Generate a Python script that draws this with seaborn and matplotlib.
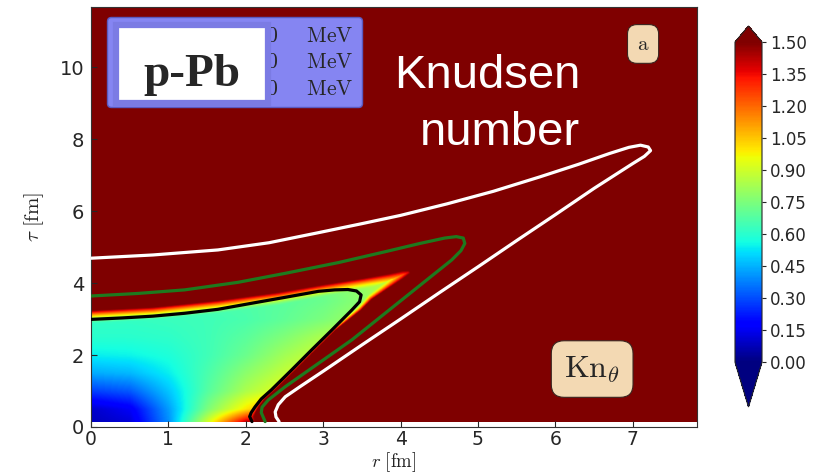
import numpy as np
import pandas as pd
import matplotlib
matplotlib.use("Agg")
import matplotlib.pyplot as plt
from matplotlib.path import Path
from matplotlib.patches import Rectangle
import seaborn as sns

# ---------------------------------------------------------------------------
# Isotherms on the (r, tau) plane, listed along each curve
# ---------------------------------------------------------------------------
iso_labels = [r"$T=150\quad\;\;\mathrm{MeV}$",
              r"$T=130\quad\;\;\mathrm{MeV}$",
              r"$T=100\quad\;\;\mathrm{MeV}$"]
iso_colors = ["black", "#1e7a1e", "white"]

black_r = [0.00, 0.40, 0.80, 1.21, 1.64, 2.08, 2.50, 2.94, 3.15, 3.32, 3.43,
           3.49, 3.47, 3.37, 3.11, 2.85, 2.59, 2.33, 2.20, 2.12, 2.07, 2.05, 2.08]
black_tau = [2.99, 3.03, 3.08, 3.16, 3.27, 3.44, 3.60, 3.77, 3.81, 3.82, 3.78,
             3.67, 3.48, 3.25, 2.69, 2.14, 1.58, 1.03, 0.78, 0.56, 0.40, 0.29, 0.15]

green_r = [0.00, 0.60, 1.21, 1.90, 2.51, 3.20, 3.80, 4.25, 4.57, 4.72, 4.81,
           4.83, 4.78, 4.66, 4.23, 3.80, 3.37, 2.94, 2.51, 2.29, 2.21, 2.20, 2.25]
green_tau = [3.64, 3.71, 3.81, 4.02, 4.27, 4.57, 4.87, 5.10, 5.25, 5.29, 5.25,
             5.10, 4.90, 4.64, 3.90, 3.16, 2.42, 1.77, 1.12, 0.75, 0.55, 0.40, 0.15]

white_r = [0.00, 0.80, 1.64, 2.30, 2.94, 3.50, 4.00, 4.60, 5.20, 5.80, 6.30,
           6.70, 6.95, 7.10, 7.20, 7.23, 7.15, 7.00, 6.50, 6.00, 5.50, 5.00,
           4.50, 4.00, 3.50, 3.00, 2.70, 2.51, 2.42, 2.38, 2.39, 2.43]
white_tau = [4.69, 4.78, 4.92, 5.12, 5.40, 5.65, 5.88, 6.20, 6.55, 6.95, 7.30,
             7.60, 7.77, 7.83, 7.78, 7.68, 7.52, 7.32, 6.63, 5.90, 5.18, 4.45,
             3.73, 3.00, 2.28, 1.55, 1.12, 0.84, 0.62, 0.42, 0.28, 0.15]

# ---------------------------------------------------------------------------
# Knudsen number Kn_theta: values on a coarse (tau, r) grid ...
# ---------------------------------------------------------------------------
kn_r = [0.0, 0.5, 1.0, 1.5, 2.0, 2.5, 3.0, 3.5, 4.0, 4.5]
kn_tau = [0.15, 0.5, 1.0, 1.5, 2.0, 2.5, 3.0, 3.5, 4.0, 4.5]
kn_values = [
    [0.08, 0.12, 0.40, 0.90, 1.42, 1.50, 1.50, 1.50, 1.50, 1.50],
    [0.10, 0.16, 0.42, 0.75, 1.00, 1.20, 1.40, 1.50, 1.50, 1.50],
    [0.28, 0.32, 0.48, 0.68, 0.84, 0.95, 1.10, 1.30, 1.50, 1.50],
    [0.44, 0.46, 0.54, 0.66, 0.78, 0.88, 0.95, 1.10, 1.30, 1.50],
    [0.54, 0.55, 0.58, 0.64, 0.72, 0.82, 0.90, 1.00, 1.20, 1.40],
    [0.60, 0.60, 0.61, 0.64, 0.69, 0.76, 0.84, 0.92, 1.05, 1.30],
    [0.62, 0.62, 0.63, 0.64, 0.66, 0.70, 0.75, 0.82, 0.95, 1.20],
    [0.66, 0.66, 0.66, 0.66, 0.67, 0.69, 0.72, 0.78, 0.90, 1.10],
    [0.75, 0.75, 0.74, 0.73, 0.72, 0.72, 0.74, 0.80, 0.92, 1.10],
    [0.90, 0.90, 0.90, 0.90, 0.90, 0.90, 0.90, 0.95, 1.05, 1.20],
]
# ... and the edge of the region where Kn_theta stays below 1.5,
# with the width (screen px) of the steep rise just inside it
edge_r = [0.00, 0.80, 1.64, 2.40, 3.00, 3.50, 3.85, 4.02, 4.10, 4.12, 4.02,
          3.85, 3.62, 3.48, 3.15, 2.89, 2.63, 2.37, 2.24, 2.16, 2.12, 2.10, 2.12]
edge_tau = [3.24, 3.33, 3.52, 3.74, 3.96, 4.13, 4.26, 4.34, 4.35, 4.28, 4.12,
            3.88, 3.55, 3.25, 2.69, 2.14, 1.58, 1.03, 0.78, 0.56, 0.40, 0.29, 0.15]
edge_width = [13, 13, 13, 13, 12, 11, 10, 10, 10, 9, 8,
              7, 6, 5, 4, 4, 4, 4, 4, 4, 4, 4, 4]

TAU0 = 0.15
R_MAX, TAU_MAX = 7.83, 11.67
KN_MIN, KN_MAX = 0.0, 1.5
cbar_ticks = [0.00, 0.15, 0.30, 0.45, 0.60, 0.75, 0.90, 1.05, 1.20, 1.35, 1.50]

# ---------------------------------------------------------------------------
sns.set_style("ticks")
plt.rcParams["mathtext.fontset"] = "cm"
plt.rcParams["xtick.direction"] = "in"
plt.rcParams["ytick.direction"] = "in"

W, H = 819, 475
fig = plt.figure(figsize=(W / 100, H / 100), dpi=100)
ax = fig.add_axes([91 / W, 48 / H, 606 / W, 420 / H])
cax = fig.add_axes([735 / W, 68 / H, 27 / W, 381 / H])

# screen px per fm along each axis, so the rise near the edge is isotropic on screen
sx = 606 / R_MAX
sy = 420 / TAU_MAX

r_grid = np.linspace(0.0, R_MAX, 784)
t_grid = np.linspace(TAU0, TAU_MAX, 600)
RR, TT = np.meshgrid(r_grid, t_grid)

# coarse table -> fine grid
rows = np.array([np.interp(r_grid, kn_r, row) for row in kn_values])
base = np.array([np.interp(t_grid, kn_tau, rows[:, j]) for j in range(len(r_grid))]).T

# distance (px) to the edge curve and local rise width
er, et, ew = map(np.asarray, (edge_r, edge_tau, edge_width))
px, py = RR * sx, TT * sy
dmin = np.full(RR.shape, np.inf)
wloc = np.ones(RR.shape)
for k in range(len(er) - 1):
    x0, y0 = er[k] * sx, et[k] * sy
    vx, vy = (er[k + 1] - er[k]) * sx, (et[k + 1] - et[k]) * sy
    t = np.clip(((px - x0) * vx + (py - y0) * vy) / (vx * vx + vy * vy), 0, 1)
    d = np.hypot(px - x0 - t * vx, py - y0 - t * vy)
    w = ew[k] * (1 - t) + ew[k + 1] * t
    m = d < dmin
    dmin[m] = d[m]
    wloc[m] = w[m]

poly = np.column_stack([np.r_[er, er[-1], -1.0, -1.0], np.r_[et, -1.0, -1.0, et[0]]])
inside = Path(poly).contains_points(np.column_stack([RR.ravel(), TT.ravel()])).reshape(RR.shape)

ramp = np.clip(1 - dmin / wloc, 0, 1) ** 1.5
kn = np.where(inside, base + (KN_MAX - base) * ramp, 2.0)

cmap = plt.get_cmap("jet")
im = ax.imshow(kn, extent=(0, R_MAX, TAU0, TAU_MAX), origin="lower", aspect="auto",
               cmap=cmap, vmin=KN_MIN, vmax=KN_MAX, interpolation="bilinear", zorder=0)

# isotherms
iso = pd.concat([
    pd.DataFrame({"r": black_r, "tau": black_tau, "T": iso_labels[0]}),
    pd.DataFrame({"r": green_r, "tau": green_tau, "T": iso_labels[1]}),
    pd.DataFrame({"r": white_r, "tau": white_tau, "T": iso_labels[2]}),
], ignore_index=True)
sns.lineplot(data=iso, x="r", y="tau", hue="T", palette=iso_colors, sort=False,
             estimator=None, linewidth=2.3, ax=ax, zorder=3)
for line in ax.lines:
    line.set_solid_joinstyle("round")
    line.set_solid_capstyle("round")

sns.move_legend(ax, "upper left", bbox_to_anchor=(0.026, 0.976), title=None,
                frameon=True, facecolor="#8585f2", edgecolor="#5a5ac0",
                framealpha=1, fontsize=15.5, borderaxespad=0, handlelength=3.5,
                handletextpad=0.8, labelspacing=0.3, borderpad=0.4)

ax.set_xlim(0, R_MAX)
ax.set_ylim(0, TAU_MAX)
ax.set_xticks(range(0, 8))
ax.set_yticks(range(0, 11, 2))
ax.tick_params(labelsize=14, length=4, width=0.8, pad=5)
ax.tick_params(axis="x", labelsize=13.5, pad=2)
ax.set_xlabel(r"$r\ [\mathrm{fm}]$", fontsize=13.5)
ax.xaxis.set_label_coords(0.5, -0.055)
ax.set_ylabel(r"$\tau\ [\mathrm{fm}]$", fontsize=15, labelpad=10)
for s in ax.spines.values():
    s.set_linewidth(0.8)
    s.set_color("#333333")

# panel tags
ax.text(0.911, 0.912, r"$\mathrm{a}$", transform=ax.transAxes, ha="center",
        va="center", fontsize=15, zorder=6,
        bbox=dict(boxstyle="round,pad=0.45", facecolor="#f3d9b3", edgecolor="#3a2520",
                  linewidth=0.8))
ax.text(0.827, 0.138, r"$\mathrm{Kn}_{\theta}$", transform=ax.transAxes, ha="center",
        va="center", fontsize=23, zorder=6,
        bbox=dict(boxstyle="round,pad=0.4", facecolor="#f3d9b3", edgecolor="#3a2520",
                  linewidth=0.8))

# system label over the legend
fig.patches.append(Rectangle((116 / W, 1 - 103 / H), 152 / W, 78 / H,
                             transform=fig.transFigure, facecolor="white",
                             edgecolor="#7b7be4", linewidth=4.5, zorder=5))
fig.text(192 / W, 1 - 86 / H, "p-Pb", family="Liberation Serif", weight="bold",
         fontsize=34, ha="center", va="baseline", zorder=6)

fig.text(580 / W, 1 - 88 / H, "Knudsen", family="Liberation Sans", color="white",
         fontsize=34, ha="right", va="baseline", zorder=6)
fig.text(580 / W, 1 - 145 / H, "number", family="Liberation Sans", color="white",
         fontsize=34, ha="right", va="baseline", zorder=6)

# colour bar
cb = fig.colorbar(im, cax=cax, extend="both", extendfrac=(0.14, 0.05), ticks=cbar_ticks)
cb.ax.set_yticklabels([f"{v:.2f}" for v in cbar_ticks])
cb.ax.tick_params(labelsize=12, length=3, width=0.8, direction="out", pad=3)
cb.outline.set_linewidth(0.8)

fig.savefig("out.png", dpi=100)
